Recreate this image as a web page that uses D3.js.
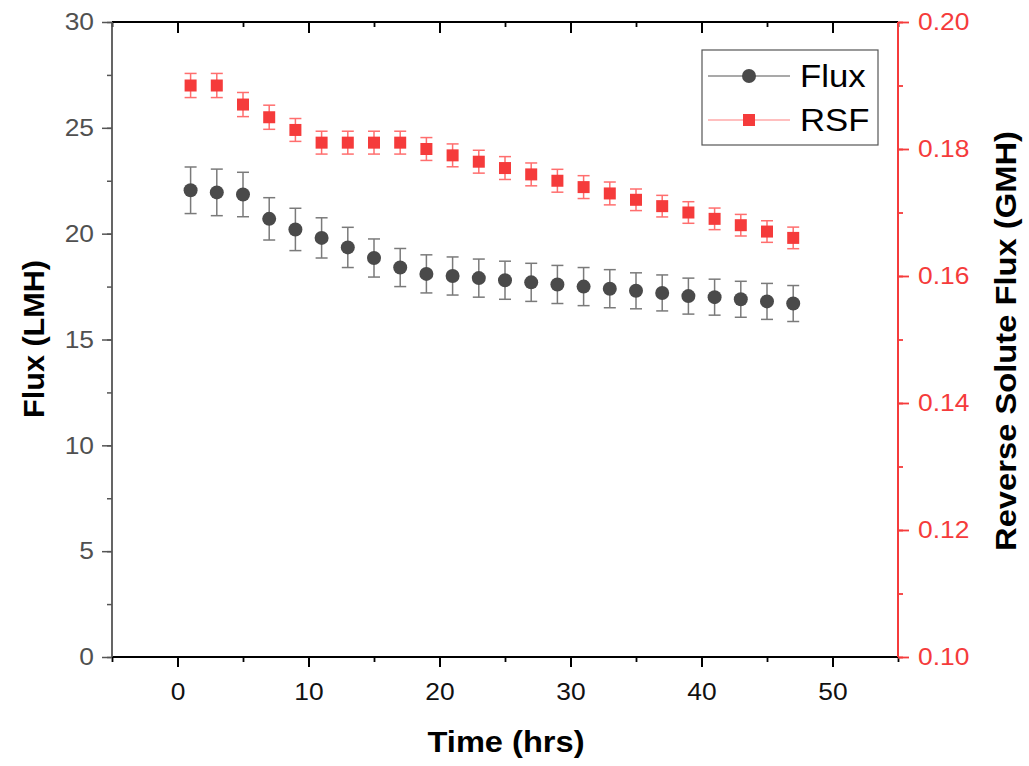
<!DOCTYPE html>
<html><head><meta charset="utf-8">
<script src="https://cdn.jsdelivr.net/npm/d3@7"></script>
<style>body{margin:0;background:#fff}svg{display:block;font-family:"Liberation Sans",Arial,sans-serif}</style>
</head><body>
<svg id="c" width="1029" height="766"></svg>
<script>
const time = [1,3,5,7,9,11,13,15,17,19,21,23,25,27,29,31,33,35,37,39,41,43,45,47];
const flux = [22.05,21.95,21.85,20.7,20.2,19.8,19.35,18.85,18.4,18.1,18.0,17.9,17.8,17.7,17.6,17.5,17.4,17.3,17.2,17.05,17.0,16.9,16.8,16.7];
const fluxErr = [1.1,1.1,1.05,1.0,1.0,0.95,0.95,0.9,0.9,0.9,0.9,0.9,0.9,0.9,0.9,0.9,0.9,0.85,0.85,0.85,0.85,0.85,0.85,0.85];
const rsf = [0.190,0.190,0.187,0.185,0.183,0.181,0.181,0.181,0.181,0.180,0.179,0.178,0.177,0.176,0.175,0.174,0.173,0.172,0.171,0.170,0.169,0.168,0.167,0.166];
const rsfErr = [0.0019,0.0019,0.0019,0.0019,0.0018,0.0018,0.0018,0.0018,0.0018,0.0018,0.0018,0.0018,0.0018,0.0018,0.0018,0.0018,0.0018,0.0017,0.0017,0.0017,0.0017,0.0017,0.0017,0.0017];
const xTicks = [0,10,20,30,40,50];
const yLeftTicks = [0,5,10,15,20,25,30];
const yRightTicks = [0.10,0.12,0.14,0.16,0.18,0.20];
const seriesNames = ["Flux","RSF"];

const L=112,R=898,T=22,B=657;
const svg=d3.select("#c");
const x=d3.scaleLinear().domain([-5,55]).range([L,R]);
const yL=d3.scaleLinear().domain([0,30]).range([B,T]);
const yR=d3.scaleLinear().domain([0.10,0.20]).range([B,T]);

const cGrey="#4a4a4a", cGreyAx="#555", cRed="#f53b3b", cRedL="#ff6e6e";

function minorTicks(scale, step){ const d=scale.domain(); return d3.range(Math.ceil(d[0]/step)*step, d[1]+1e-9, step); }
function stretch(sel,f){ sel.each(function(){ const w=this.getComputedTextLength(); d3.select(this).attr("textLength",w*f).attr("lengthAdjust","spacingAndGlyphs"); }); }

// bottom axis
const gB=svg.append("g").attr("transform",`translate(0,${B})`)
  .call(d3.axisBottom(x).tickValues(minorTicks(x,5)).tickSize(5).tickFormat(""));
gB.selectAll(".domain").remove();
gB.selectAll("line").attr("stroke","#000").attr("stroke-width",1.8);
const gB2=svg.append("g").attr("transform",`translate(0,${B})`)
  .call(d3.axisBottom(x).tickValues(xTicks).tickSize(10).tickPadding(16).tickFormat(d3.format("d")));
gB2.select(".domain").remove();
gB2.selectAll("line").attr("stroke","#000").attr("stroke-width",2);
gB2.selectAll("text").attr("font-size",24).attr("fill","#111").attr("font-family","Liberation Sans, Arial, sans-serif");
stretch(gB2.selectAll("text"),1.1);

// top axis (inward ticks, no labels)
const gT=svg.append("g").attr("transform",`translate(0,${T})`)
  .call(d3.axisBottom(x).tickValues(minorTicks(x,5)).tickSize(5).tickFormat(""));
gT.select(".domain").remove();
gT.selectAll("line").attr("stroke","#000").attr("stroke-width",1.8);
const gT2=svg.append("g").attr("transform",`translate(0,${T})`)
  .call(d3.axisBottom(x).tickValues(xTicks).tickSize(11).tickFormat(""));
gT2.select(".domain").remove();
gT2.selectAll("line").attr("stroke","#000").attr("stroke-width",2);

// left axis
const gL=svg.append("g").attr("transform",`translate(${L},0)`)
  .call(d3.axisLeft(yL).tickValues(minorTicks(yL,2.5)).tickSize(5).tickFormat(""));
gL.select(".domain").remove();
gL.selectAll("line").attr("stroke",cGreyAx).attr("stroke-width",1.5);
const gL2=svg.append("g").attr("transform",`translate(${L},0)`)
  .call(d3.axisLeft(yL).tickValues(yLeftTicks).tickSize(10).tickPadding(8).tickFormat(d3.format("d")));
gL2.select(".domain").remove();
gL2.selectAll("line").attr("stroke",cGreyAx).attr("stroke-width",1.5);
gL2.selectAll("text").attr("font-size",24).attr("fill","#505050").attr("font-family","Liberation Sans, Arial, sans-serif");
stretch(gL2.selectAll("text"),1.1);

// right axis
const gR=svg.append("g").attr("transform",`translate(${R},0)`)
  .call(d3.axisRight(yR).tickValues(minorTicks(yR,0.01)).tickSize(5).tickFormat(""));
gR.select(".domain").remove();
gR.selectAll("line").attr("stroke",cRed).attr("stroke-width",1.8);
const gR2=svg.append("g").attr("transform",`translate(${R},0)`)
  .call(d3.axisRight(yR).tickValues(yRightTicks).tickSize(11).tickPadding(9).tickFormat(d3.format(".2f")));
gR2.select(".domain").remove();
gR2.selectAll("line").attr("stroke",cRed).attr("stroke-width",1.8);
gR2.selectAll("text").attr("font-size",24).attr("fill",cRed).attr("font-family","Liberation Sans, Arial, sans-serif");
stretch(gR2.selectAll("text"),1.1);

// axis lines
svg.append("line").attr("x1",L).attr("x2",R).attr("y1",T).attr("y2",T).attr("stroke","#000").attr("stroke-width",2);
svg.append("line").attr("x1",L).attr("x2",R).attr("y1",B).attr("y2",B).attr("stroke","#000").attr("stroke-width",2);
svg.append("line").attr("x1",L).attr("x2",L).attr("y1",T).attr("y2",B).attr("stroke",cGreyAx).attr("stroke-width",1.8);
svg.append("line").attr("x1",R).attr("x2",R).attr("y1",T).attr("y2",B).attr("stroke",cRed).attr("stroke-width",2);

// axis titles
svg.append("text").attr("x",506).attr("y",752).attr("text-anchor","middle")
  .attr("font-size",30).attr("font-weight","bold").attr("fill","#000")
  .attr("textLength",157).attr("lengthAdjust","spacingAndGlyphs").text("Time (hrs)");
svg.append("text").attr("transform",`translate(44,339) rotate(-90)`).attr("text-anchor","middle")
  .attr("font-size",30).attr("font-weight","bold").attr("fill","#000")
  .attr("textLength",158).attr("lengthAdjust","spacingAndGlyphs").text("Flux (LMH)");
svg.append("text").attr("transform",`translate(1016,341) rotate(-90)`).attr("text-anchor","middle")
  .attr("font-size",30).attr("font-weight","bold").attr("fill","#000")
  .attr("textLength",420).attr("lengthAdjust","spacingAndGlyphs").text("Reverse Solute Flux (GMH)");

const capW=6;
// Flux error bars + markers
const fg=svg.append("g");
time.forEach((t,i)=>{
  const cx=x(t), y1=yL(flux[i]-fluxErr[i]), y2=yL(flux[i]+fluxErr[i]);
  fg.append("line").attr("x1",cx).attr("x2",cx).attr("y1",y1).attr("y2",y2).attr("stroke","#7a7a7a").attr("stroke-width",1.5);
  [y1,y2].forEach(yy=>fg.append("line").attr("x1",cx-capW).attr("x2",cx+capW).attr("y1",yy).attr("y2",yy).attr("stroke","#7a7a7a").attr("stroke-width",1.5));
});
fg.selectAll("circle").data(time).join("circle").attr("cx",d=>x(d)).attr("cy",(d,i)=>yL(flux[i])).attr("r",7).attr("fill",cGrey);

// RSF error bars + markers
const rg=svg.append("g");
time.forEach((t,i)=>{
  const cx=x(t), y1=yR(rsf[i]-rsfErr[i]), y2=yR(rsf[i]+rsfErr[i]);
  rg.append("line").attr("x1",cx).attr("x2",cx).attr("y1",y1).attr("y2",y2).attr("stroke",cRedL).attr("stroke-width",1.5);
  [y1,y2].forEach(yy=>rg.append("line").attr("x1",cx-capW).attr("x2",cx+capW).attr("y1",yy).attr("y2",yy).attr("stroke",cRedL).attr("stroke-width",1.5));
});
rg.selectAll("rect").data(time).join("rect").attr("x",d=>x(d)-6).attr("y",(d,i)=>yR(rsf[i])-6).attr("width",12).attr("height",12).attr("fill",cRed);

// legend
const lg=svg.append("g");
lg.append("rect").attr("x",702).attr("y",50).attr("width",176).attr("height",95).attr("fill","#fff").attr("stroke","#555").attr("stroke-width",1.2);
const rows=[{y:76,c:"#555",m:"circle"},{y:120,c:"#ff8080",m:"rect"}];
rows.forEach((r,i)=>{
  lg.append("line").attr("x1",708).attr("x2",790).attr("y1",r.y).attr("y2",r.y).attr("stroke",r.c).attr("stroke-width",1.2);
  if(r.m==="circle") lg.append("circle").attr("cx",749).attr("cy",r.y).attr("r",7).attr("fill",cGrey);
  else lg.append("rect").attr("x",743).attr("y",r.y-6).attr("width",12).attr("height",12).attr("fill",cRed);
  const t=lg.append("text").attr("x",800).attr("y",r.y+11).attr("font-size",31).attr("fill","#000").text(seriesNames[i]);
  stretch(t,1.12);
});
</script>
</body></html>
